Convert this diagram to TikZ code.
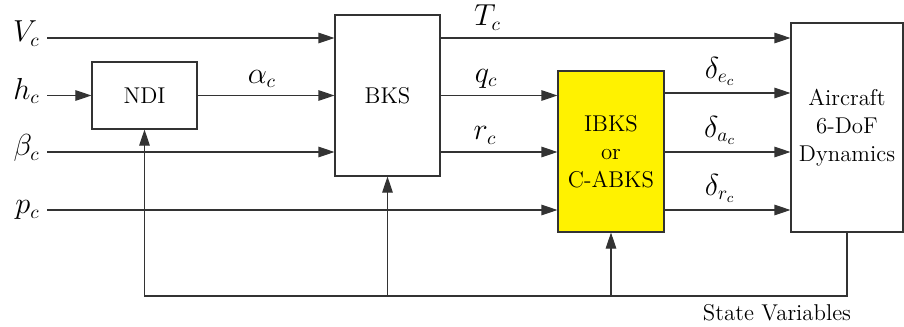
\documentclass[tikz,border=0pt]{standalone}
\usetikzlibrary{arrows.meta, positioning, calc}

\begin{document}
\begin{tikzpicture}[x=0.2mm, y=0.2mm,
		blk/.style={draw=black!80, line width=0.6pt, inner sep=0pt, align=center, font=\fontsize{13}{16}\selectfont},
		sig/.style={draw=black!80, line width=0.6pt, -{Triangle[length=3.2mm, width=2.1mm]}},
		lbl/.style={font=\fontsize{16}{18}\selectfont, inner sep=4pt}]
	\useasboundingbox (0,0) rectangle (904,326);
	\node[blk, minimum width=21mm, minimum height=13.4mm] (NDI) at (144.5,230.5) {NDI};
	\node[blk, minimum width=21mm, minimum height=32.2mm] (BKS) at (387.5,230.5) {BKS};
	\node[blk, fill=yellow, minimum width=21.2mm, minimum height=32.2mm] (IBKS) at (611,174.5) {IBKS\\or\\C-ABKS};
	\node[blk, minimum width=22.4mm, minimum height=41.8mm] (AC) at (847,198.5) {Aircraft\\6-DoF\\Dynamics};
	\node[lbl, anchor=mid east] (Vc) at (47,288) {$V_c$};
	\node[lbl, anchor=mid east] (hc) at (47,230.5) {$h_c$};
	\node[lbl, anchor=mid east] (bc) at (47,174) {$\beta_c$};
	\node[lbl, anchor=mid east] (pc) at (47,116) {$p_c$};
	\coordinate (de) at (664,233);
	\coordinate (fb) at (0,30);
	\draw[sig] (Vc.mid east) -- (Vc.mid east -| BKS.west);
	\draw[sig] (hc.mid east) -- (hc.mid east -| NDI.west);
	\draw[sig] (NDI.east) -- (NDI.east -| BKS.west) node[lbl, above, pos=0.47] {$\alpha_c$};
	\draw[sig] (bc.mid east) -- (bc.mid east -| BKS.west);
	\draw[sig] (pc.mid east) -- (pc.mid east -| IBKS.west);
	\draw[sig] (BKS.east |- Vc.mid east) -- (Vc.mid east -| AC.west) node[lbl, above, pos=0.134] {$T_c$};
	\draw[sig] (BKS.east |- NDI.east) -- (NDI.east -| IBKS.west) node[lbl, above, pos=0.39] {$q_c$};
	\draw[sig] (BKS.east |- bc.mid east) -- (bc.mid east -| IBKS.west) node[lbl, above, pos=0.38] {$r_c$};
	\draw[sig] (IBKS.east |- de) -- (de -| AC.west) node[lbl, above, pos=0.44] {$\delta_{e_c}$};
	\draw[sig] (IBKS.east |- bc.mid east) -- (bc.mid east -| AC.west) node[lbl, above, pos=0.44] {$\delta_{a_c}$};
	\draw[sig] (IBKS.east |- pc.mid east) -- (pc.mid east -| AC.west) node[lbl, above, pos=0.44] {$\delta_{r_c}$};
	\draw[sig] (AC.south) |- (NDI.south |- fb) -- (NDI.south);
	\draw[sig] (BKS.south |- fb) -- (BKS.south);
	\draw[sig] (IBKS.south |- fb) -- (IBKS.south);
	\node[blk, draw=none] (sv) at (777,13) {State Variables};
\end{tikzpicture}
\end{document}
